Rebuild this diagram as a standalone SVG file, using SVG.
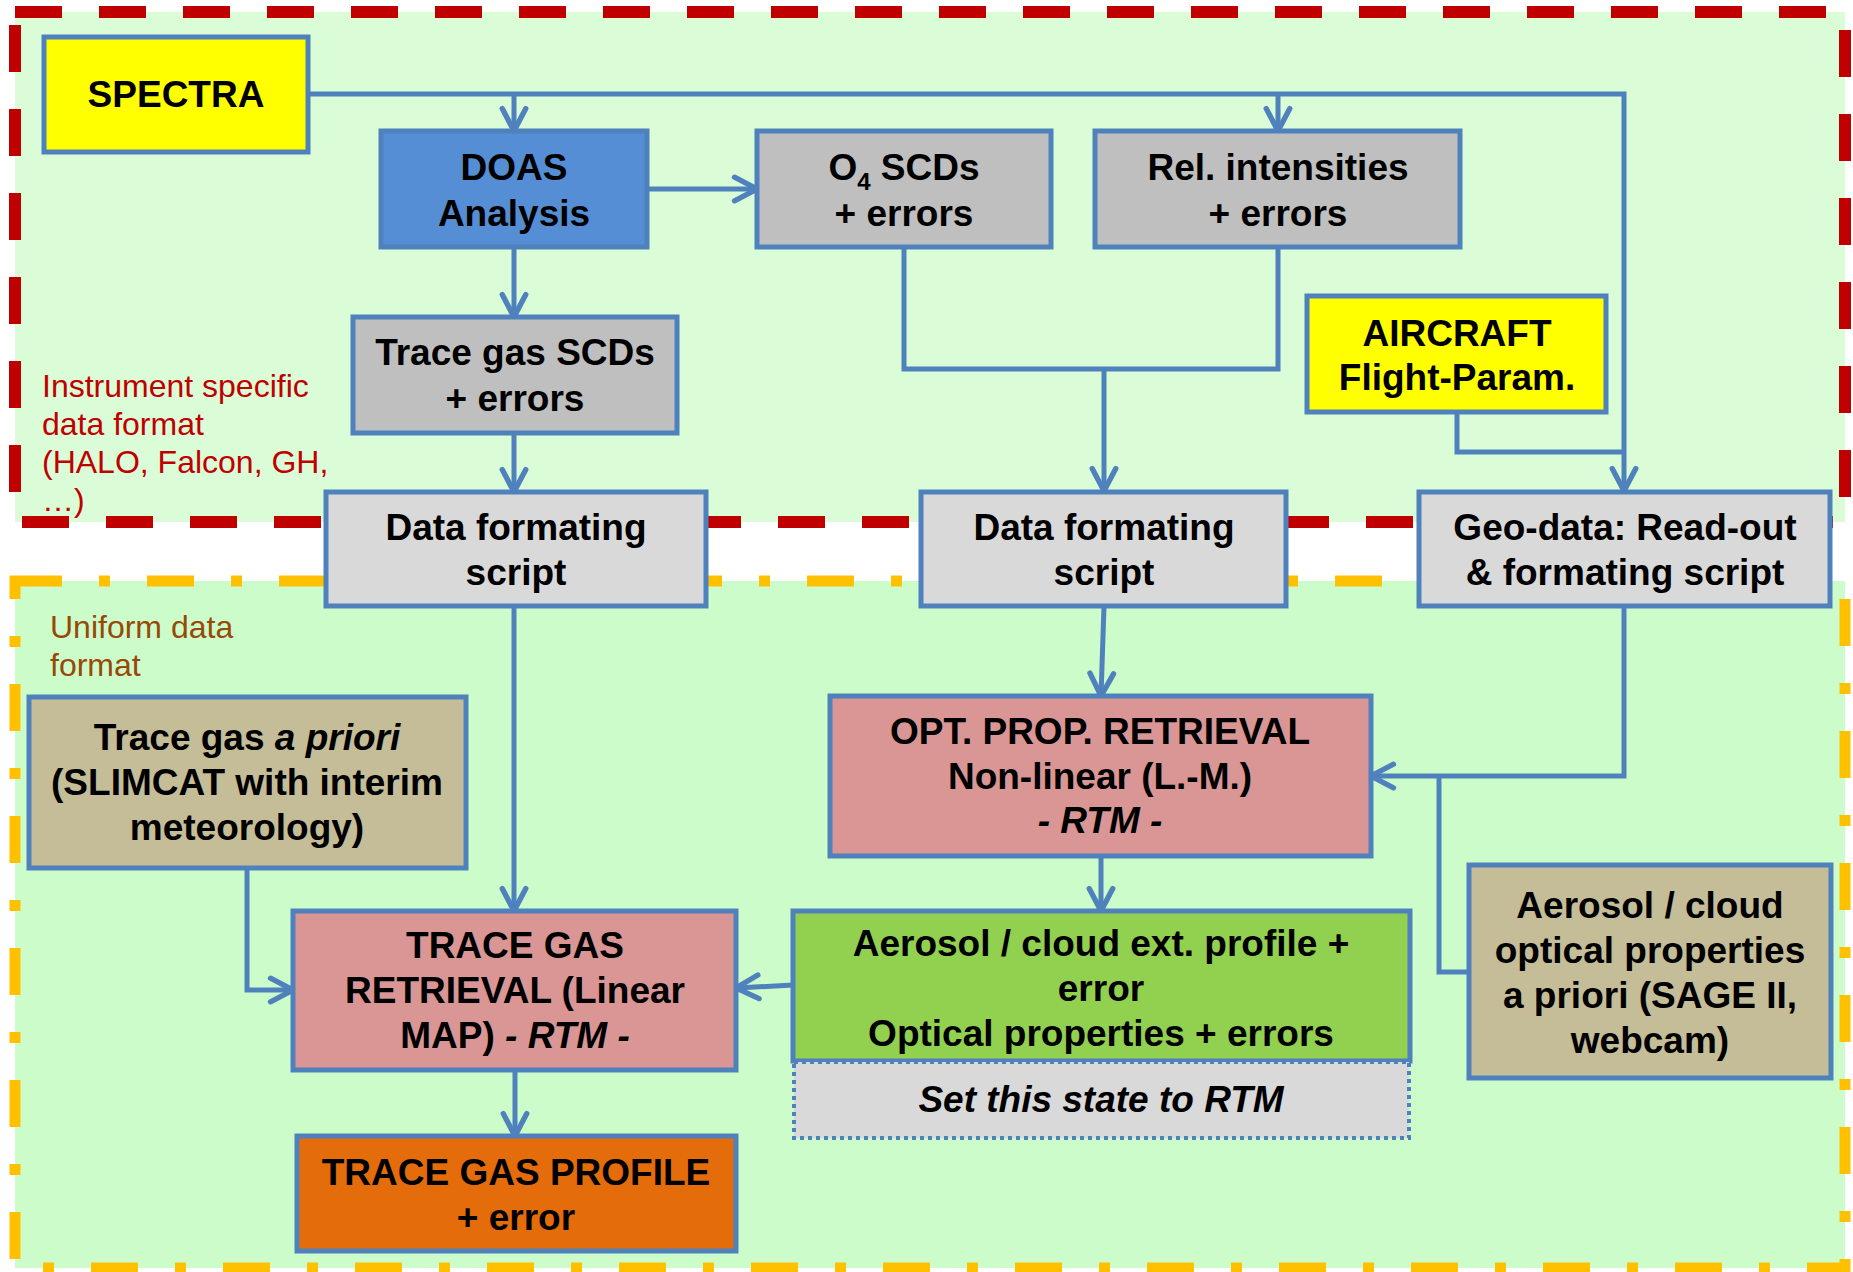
<svg xmlns="http://www.w3.org/2000/svg" width="1853" height="1272" viewBox="0 0 1853 1272">
<defs>
<style>
.box{stroke:#4f81bd;stroke-width:5}
.t{font-family:"Liberation Sans",Arial,sans-serif;font-size:37px;font-weight:bold;fill:#000;text-anchor:middle}
.lbl{font-family:"Liberation Sans",Arial,sans-serif;font-size:32px}
.c{fill:none;stroke:#4f81bd;stroke-width:5;stroke-linejoin:miter}
.ca{fill:none;stroke:#4f81bd;stroke-width:5;marker-end:url(#arr)}
</style>
<marker id="arr" markerUnits="userSpaceOnUse" markerWidth="30" markerHeight="30" viewBox="-2 -2 28 28" refX="22" refY="12" orient="auto" overflow="visible">
<path d="M1,1 L22,12 L1,23" fill="none" stroke="#4f81bd" stroke-width="5" stroke-linecap="round" stroke-linejoin="miter"/>
</marker>
</defs>
<rect width="1853" height="1272" fill="#ffffff"/>
<g id="regions">
<rect x="15" y="12" width="1830" height="510" fill="#dafcd7"/>
<rect x="15" y="581" width="1830" height="687" fill="#ccfcca"/>
<rect x="15" y="12" width="1830" height="510" fill="none" stroke="#c00000" stroke-width="12" stroke-dasharray="47 37"/>
<rect x="15" y="581" width="1830" height="687" fill="none" stroke="#ffc000" stroke-width="11" stroke-dasharray="47 37 11 37"/>
<text class="lbl" fill="#c00000" x="42" y="397">Instrument specific</text>
<text class="lbl" fill="#c00000" x="42" y="435">data format</text>
<text class="lbl" fill="#c00000" x="42" y="473">(HALO, Falcon, GH,</text>
<text class="lbl" fill="#c00000" x="42" y="511">…)</text>
<text class="lbl" fill="#984807" x="50" y="638">Uniform data</text>
<text class="lbl" fill="#984807" x="50" y="676">format</text>
</g>
<g id="connectors">
<path class="ca" d="M308,94 H1624 V491"/>
<path class="ca" d="M514,94 V131"/>
<path class="ca" d="M1278,94 V131"/>
<path class="ca" d="M647,189 H757"/>
<path class="ca" d="M514,247 V317"/>
<path class="ca" d="M514,433 V492"/>
<path class="c" d="M904,247 V369 H1278 V247"/>
<path class="ca" d="M1104,369 V491"/>
<path class="c" d="M1457,412 V452 H1624"/>
<path class="ca" d="M514,606 V911"/>
<path class="ca" d="M247,868 V990 H293"/>
<path class="ca" d="M515,1070 V1136"/>
<path class="ca" d="M1104,606 L1101,696"/>
<path class="ca" d="M1624,606 V776 H1371"/>
<path class="c" d="M1469,972 H1439 V776"/>
<path class="ca" d="M1101,856 V911"/>
<path class="ca" d="M793,985 L736,988"/>
</g>
<g id="spectra">
<rect class="box" x="44" y="37" width="264" height="115" fill="#ffff00"/>
<text class="t" x="176" y="107">SPECTRA</text>
</g>
<g id="doas">
<rect class="box" x="381" y="131" width="266" height="116" fill="#558ed5"/>
<text class="t" x="514" y="180">DOAS</text>
<text class="t" x="514" y="226">Analysis</text>
</g>
<g id="o4scds">
<rect class="box" x="757" y="131" width="294" height="116" fill="#bfbfbf"/>
<text class="t" x="904" y="180">O<tspan font-size="24" dy="10">4</tspan><tspan dy="-10"> SCDs</tspan></text>
<text class="t" x="904" y="226">+ errors</text>
</g>
<g id="relint">
<rect class="box" x="1095" y="131" width="365" height="116" fill="#bfbfbf"/>
<text class="t" x="1278" y="180">Rel. intensities</text>
<text class="t" x="1278" y="226">+ errors</text>
</g>
<g id="tracegasscds">
<rect class="box" x="353" y="317" width="324" height="116" fill="#bfbfbf"/>
<text class="t" x="515" y="365">Trace gas SCDs</text>
<text class="t" x="515" y="411">+ errors</text>
</g>
<g id="aircraft">
<rect class="box" x="1307" y="296" width="299" height="116" fill="#ffff00"/>
<text class="t" x="1457" y="346">AIRCRAFT</text>
<text class="t" x="1457" y="390">Flight-Param.</text>
</g>
<g id="dataformat1">
<rect class="box" x="326" y="492" width="380" height="114" fill="#d9d9d9"/>
<text class="t" x="516" y="540">Data formating</text>
<text class="t" x="516" y="585">script</text>
</g>
<g id="dataformat2">
<rect class="box" x="921" y="492" width="365" height="114" fill="#d9d9d9"/>
<text class="t" x="1104" y="540">Data formating</text>
<text class="t" x="1104" y="585">script</text>
</g>
<g id="geodata">
<rect class="box" x="1419" y="492" width="411" height="114" fill="#d9d9d9"/>
<text class="t" x="1625" y="540">Geo-data: Read-out</text>
<text class="t" x="1625" y="585">&amp; formating script</text>
</g>
<g id="apriori">
<rect class="box" x="29" y="697" width="437" height="171" fill="#c4bd97"/>
<text class="t" x="247" y="750">Trace gas <tspan font-style="italic">a priori</tspan></text>
<text class="t" x="247" y="795">(SLIMCAT with interim</text>
<text class="t" x="247" y="840">meteorology)</text>
</g>
<g id="optprop">
<rect class="box" x="830" y="696" width="541" height="160" fill="#d99694"/>
<text class="t" x="1100" y="744">OPT. PROP. RETRIEVAL</text>
<text class="t" x="1100" y="789">Non-linear (L.-M.)</text>
<text class="t" x="1100" y="833" font-style="italic">- RTM -</text>
</g>
<g id="tgretrieval">
<rect class="box" x="293" y="911" width="443" height="159" fill="#d99694"/>
<text class="t" x="515" y="958">TRACE GAS</text>
<text class="t" x="515" y="1003">RETRIEVAL (Linear</text>
<text class="t" x="515" y="1048">MAP) <tspan font-style="italic">- RTM -</tspan></text>
</g>
<g id="aerosolprofile">
<rect class="box" x="793" y="911" width="617" height="150" fill="#92d050"/>
<text class="t" x="1101" y="956">Aerosol / cloud ext. profile +</text>
<text class="t" x="1101" y="1001">error</text>
<text class="t" x="1101" y="1046">Optical properties + errors</text>
</g>
<g id="setstate">
<rect x="794" y="1062" width="615" height="76" fill="#d9d9d9" stroke="#4f81bd" stroke-width="4" stroke-dasharray="4 4"/>
<text class="t" x="1101" y="1112" font-style="italic">Set this state to RTM</text>
</g>
<g id="aerosolapriori">
<rect class="box" x="1469" y="865" width="362" height="213" fill="#c4bd97"/>
<text class="t" x="1650" y="918">Aerosol / cloud</text>
<text class="t" x="1650" y="963">optical properties</text>
<text class="t" x="1650" y="1008">a priori (SAGE II,</text>
<text class="t" x="1650" y="1053">webcam)</text>
</g>
<g id="profile">
<rect class="box" x="297" y="1136" width="439" height="115" fill="#e46c0a"/>
<text class="t" x="516" y="1185">TRACE GAS PROFILE</text>
<text class="t" x="516" y="1230">+ error</text>
</g>
</svg>
